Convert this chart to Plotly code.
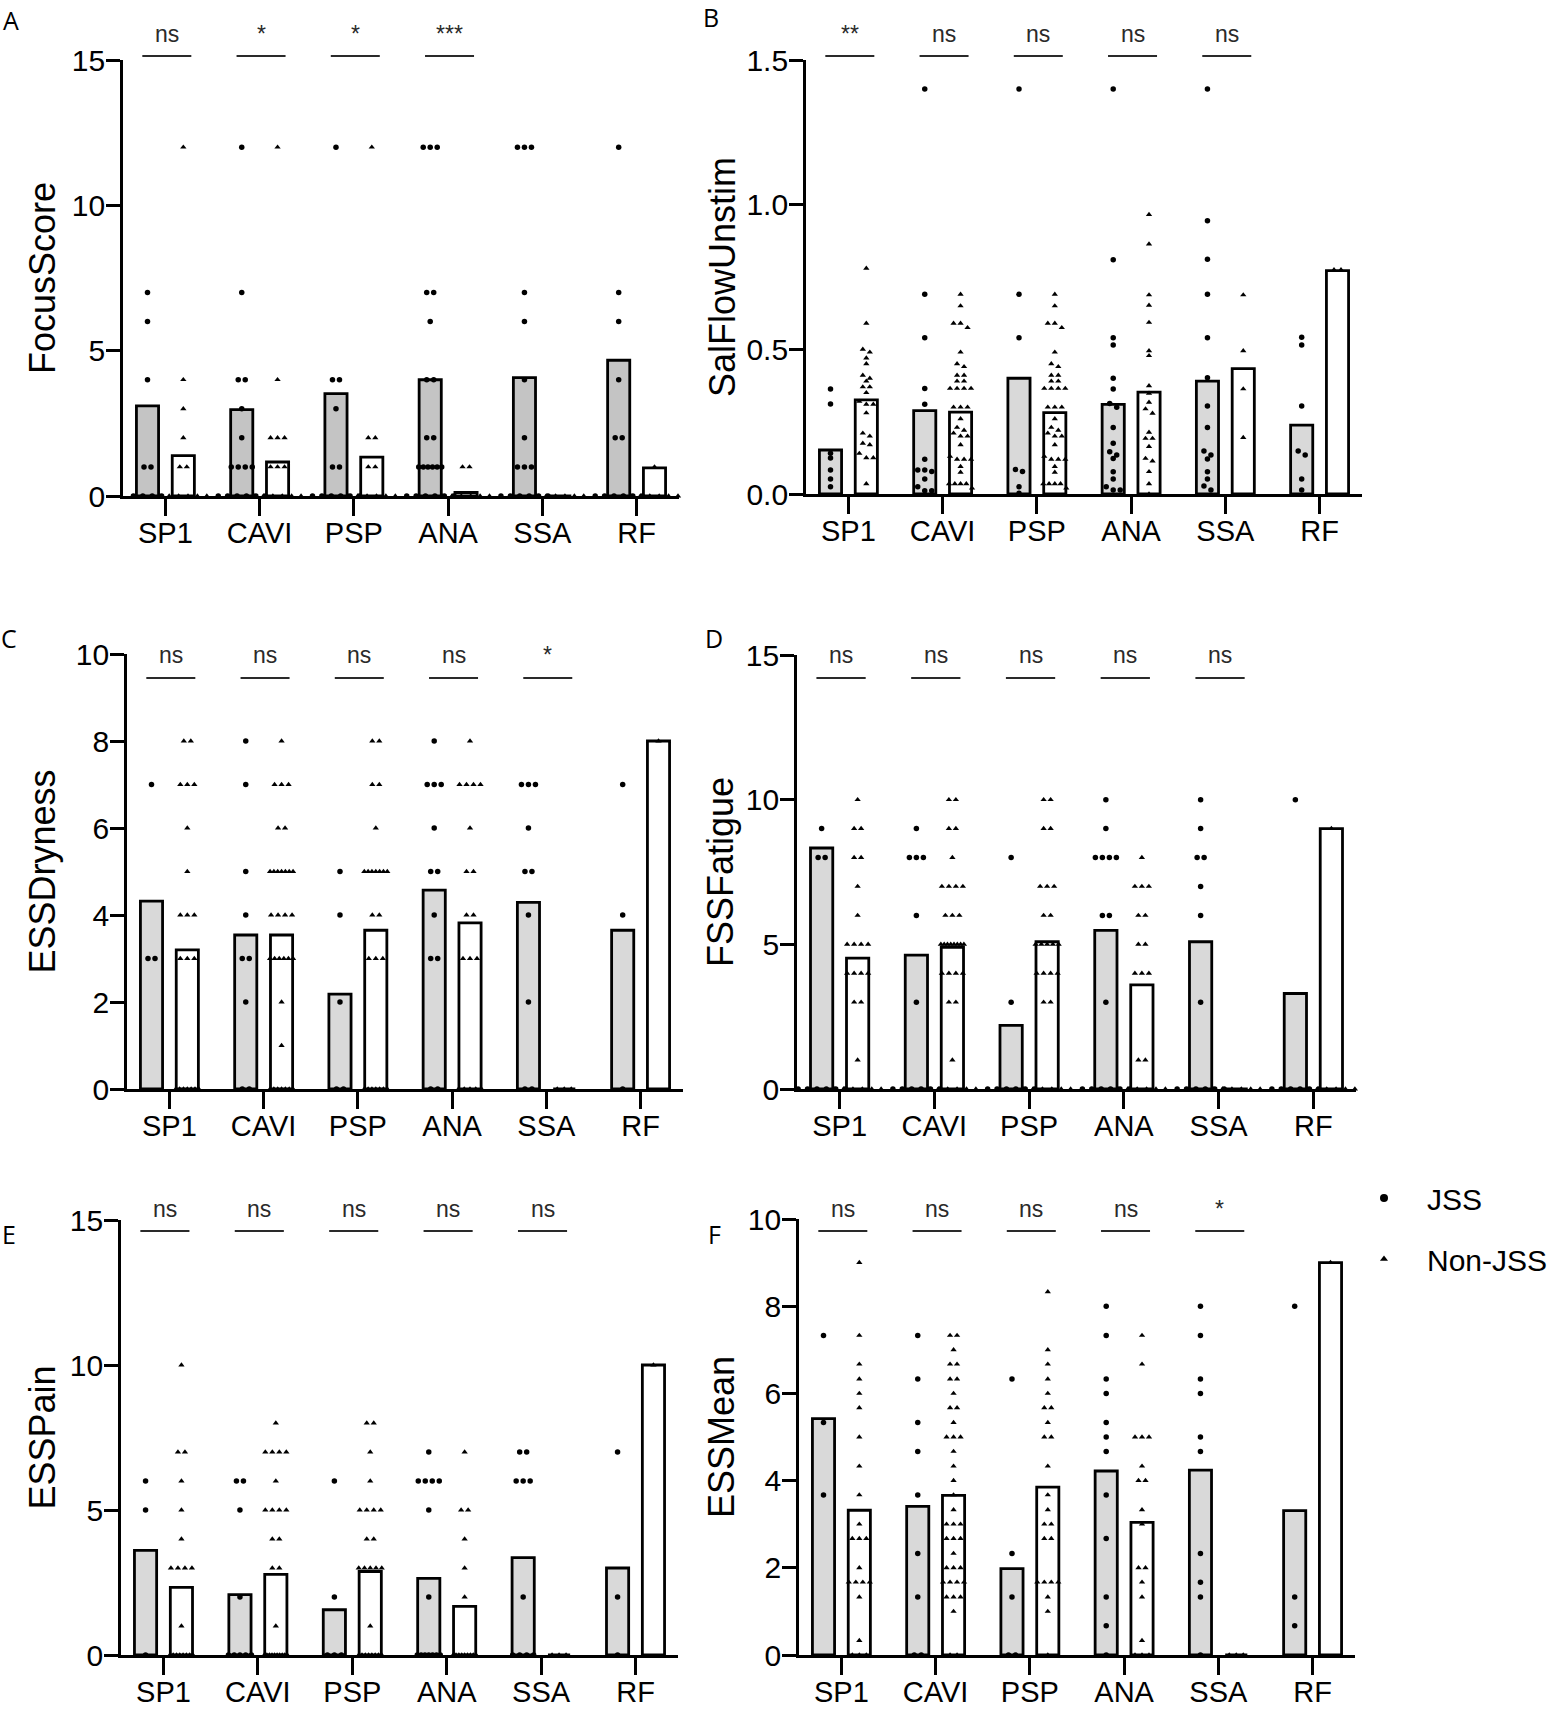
import plotly.graph_objects as go

# ---------------- data ----------------
CATEGORIES = ["SP1", "CAVI", "PSP", "ANA", "SSA", "RF"]

FOCUS_JSS = [
    [7, 6, 4, 1, 1, 0, 0, 0, 0],
    [12, 7, 4, 4, 3, 2, 1, 1, 1, 1, 0, 0, 0, 0, 0, 0],
    [12, 4, 4, 3, 1, 1, 0, 0, 0, 0, 0, 0],
    [12, 12, 12, 7, 7, 6, 4, 4, 2, 2, 1, 1, 1, 1, 1, 1, 0, 0, 0, 0, 0, 0],
    [12, 12, 12, 7, 6, 4, 2, 1, 1, 1, 0, 0, 0, 0, 0, 0],
    [12, 7, 6, 4, 2, 2, 0, 0, 0, 0, 0, 0],
]
FOCUS_NONJSS = [
    [12, 4, 3, 2, 1, 1, 0, 0, 0, 0, 0, 0],
    [12, 4, 2, 2, 2, 1, 1, 1, 0, 0, 0, 0, 0, 0],
    [12, 2, 2, 1, 1, 0, 0, 0, 0, 0, 0],
    [1, 1, 0, 0, 0, 0, 0, 0],
    [0, 0, 0, 0, 0, 0],
    [1, 0, 0, 0, 0, 0, 0],
]
FOCUS_MEAN_JSS = [3.1, 2.97, 3.52, 4.0, 4.07, 4.67]
FOCUS_MEAN_NONJSS = [1.39, 1.17, 1.34, 0.12, 0.0, 0.97]
FOCUS_SIG = ["ns", "*", "*", "***"]

SAL_JSS = [
    [0.363, 0.311, 0.141, 0.124, 0.083, 0.052, 0.025],
    [1.40, 0.69, 0.54, 0.365, 0.31, 0.12, 0.083, 0.083, 0.078, 0.052, 0.025, 0.011, 0.011],
    [1.40, 0.69, 0.54, 0.085, 0.078, 0.025, 0.003],
    [1.40, 0.81, 0.54, 0.515, 0.40, 0.363, 0.313, 0.30, 0.23, 0.175, 0.146, 0.135,
     0.123, 0.077, 0.052, 0.025, 0.014, 0.014],
    [1.40, 0.944, 0.811, 0.69, 0.54, 0.402, 0.304, 0.23, 0.149, 0.135, 0.121, 0.077,
     0.052, 0.028, 0.014],
    [0.542, 0.515, 0.304, 0.149, 0.135, 0.052, 0.014],
]
SAL_NONJSS = [
    [0.78, 0.59, 0.50, 0.49, 0.47, 0.45, 0.41, 0.40, 0.39, 0.37, 0.37, 0.35, 0.32, 0.31,
     0.31, 0.28, 0.21, 0.20, 0.175, 0.17, 0.14, 0.125, 0.125, 0.035],
    [0.69, 0.65, 0.59, 0.59, 0.575, 0.49, 0.45, 0.44, 0.41, 0.41, 0.39, 0.39, 0.365, 0.365,
     0.365, 0.365, 0.30, 0.30, 0.30, 0.26, 0.23, 0.22, 0.21, 0.20, 0.20, 0.17, 0.13, 0.12,
     0.12, 0.12, 0.095, 0.075, 0.035, 0.035, 0.035, 0.035, 0.02],
    [0.69, 0.65, 0.59, 0.59, 0.575, 0.49, 0.45, 0.44, 0.41, 0.41, 0.39, 0.39, 0.365, 0.365,
     0.365, 0.365, 0.30, 0.30, 0.30, 0.26, 0.23, 0.22, 0.21, 0.20, 0.20, 0.17, 0.13, 0.12,
     0.12, 0.12, 0.095, 0.075, 0.035, 0.035, 0.035, 0.035, 0.02],
    [0.966, 0.864, 0.688, 0.652, 0.593, 0.495, 0.478, 0.374, 0.348, 0.317, 0.294, 0.279,
     0.213, 0.192, 0.192, 0.164, 0.123, 0.114, 0.077, 0.035, 0.0],
    [0.688, 0.495, 0.363, 0.195],
    [0.775, 0.775],
]
SAL_MEAN_JSS = [0.152, 0.288, 0.40, 0.31, 0.39, 0.238]
SAL_MEAN_NONJSS = [0.325, 0.283, 0.281, 0.352, 0.433, 0.772]
SAL_SIG = ["**", "ns", "ns", "ns", "ns"]

DRY_JSS = [
    [7, 3, 3],
    [8, 7, 5, 4, 3, 3, 2, 0, 0],
    [5, 4, 2, 0, 0],
    [8, 7, 7, 7, 6, 5, 5, 4, 3, 3, 0, 0],
    [7, 7, 7, 6, 5, 5, 4, 2, 0, 0],
    [7, 4, 0],
]
DRY_NONJSS = [
    [8, 8, 7, 7, 7, 6, 5, 4, 4, 4, 3, 3, 3, 0, 0, 0, 0, 0, 0, 0],
    [8, 7, 7, 7, 6, 6, 5, 5, 5, 5, 5, 5, 5, 4, 4, 4, 4, 3, 3, 3, 3, 3, 3, 2, 1,
     0, 0, 0, 0, 0, 0, 0],
    [8, 8, 7, 7, 6, 5, 5, 5, 5, 5, 5, 5, 4, 4, 3, 3, 3, 0, 0, 0, 0, 0, 0, 0],
    [8, 7, 7, 7, 7, 6, 5, 5, 4, 4, 3, 3, 3, 0, 0, 0, 0, 0],
    [0, 0, 0],
    [8],
]
DRY_MEAN_JSS = [4.32, 3.54, 2.18, 4.57, 4.29, 3.65]
DRY_MEAN_NONJSS = [3.2, 3.54, 3.65, 3.82, 0.0, 8.0]
DRY_SIG = ["ns", "ns", "ns", "ns", "*"]

FAT_JSS = [
    [9, 8, 8, 0, 0, 0, 0, 0, 0],
    [9, 8, 8, 8, 6, 3, 0, 0, 0, 0, 0, 0],
    [8, 3, 0, 0, 0, 0, 0, 0],
    [10, 9, 8, 8, 8, 8, 6, 6, 3, 0, 0, 0, 0, 0, 0],
    [10, 9, 8, 8, 7, 6, 3, 0, 0, 0, 0, 0, 0],
    [10, 0, 0, 0, 0, 0, 0],
]
FAT_NONJSS = [
    [10, 9, 9, 8, 8, 7, 6, 5, 5, 5, 5, 4, 4, 4, 4, 3, 3, 1, 0, 0, 0, 0, 0, 0],
    [10, 10, 9, 9, 8, 7, 7, 7, 7, 6, 6, 6, 5, 5, 5, 5, 5, 5, 5, 5, 4, 4, 4, 4, 3, 3, 1,
     0, 0, 0, 0, 0, 0],
    [10, 10, 9, 9, 7, 7, 7, 6, 6, 5, 5, 5, 5, 5, 4, 4, 4, 4, 3, 3, 0, 0, 0, 0, 0, 0],
    [8, 7, 7, 7, 6, 6, 5, 5, 4, 4, 4, 1, 1, 0, 0, 0, 0, 0, 0],
    [0, 0, 0, 0, 0, 0],
    [9, 0, 0, 0, 0, 0, 0],
]
FAT_MEAN_JSS = [8.33, 4.63, 2.2, 5.48, 5.09, 3.3]
FAT_MEAN_NONJSS = [4.52, 4.9, 5.09, 3.6, 0.0, 9.0]
FAT_SIG = ["ns", "ns", "ns", "ns", "ns"]

PAIN_JSS = [
    [6, 5, 0],
    [6, 6, 5, 2, 0, 0, 0, 0, 0],
    [6, 2, 0, 0, 0],
    [7, 6, 6, 6, 6, 5, 2, 0, 0, 0, 0, 0, 0, 0],
    [7, 7, 6, 6, 6, 2, 0, 0, 0, 0],
    [7, 2, 0],
]
PAIN_NONJSS = [
    [10, 7, 7, 6, 5, 4, 3, 3, 3, 3, 1, 0, 0, 0, 0, 0, 0, 0, 0],
    [8, 7, 7, 7, 7, 6, 5, 5, 5, 5, 4, 4, 3, 3, 1, 0, 0, 0, 0, 0, 0, 0, 0, 0, 0],
    [8, 8, 7, 6, 5, 5, 5, 5, 4, 4, 3, 3, 3, 3, 3, 1, 0, 0, 0, 0, 0, 0, 0, 0],
    [7, 5, 5, 4, 3, 2, 0, 0, 0, 0, 0, 0, 0, 0, 0],
    [0, 0, 0],
    [10],
]
PAIN_MEAN_JSS = [3.61, 2.08, 1.56, 2.64, 3.36, 3.0]
PAIN_MEAN_NONJSS = [2.33, 2.78, 2.88, 1.68, 0.0, 10.0]
PAIN_SIG = ["ns", "ns", "ns", "ns", "ns"]

MEAN_JSS = [
    [7.33, 5.33, 3.67],
    [7.33, 6.33, 5.33, 4.67, 3.67, 2.33, 1.33, 0, 0],
    [6.33, 2.33, 1.33, 0, 0],
    [8, 7.33, 6.33, 6, 5.33, 5, 4.67, 3.67, 2.67, 1.33, 0.67, 0],
    [8, 7.33, 6.33, 6, 5, 4.67, 2.33, 1.67, 1.33, 0],
    [8, 1.33, 0.67],
]
MEAN_NONJSS = [
    [9, 7.33, 6.67, 6.33, 6, 5.67, 5, 4.33, 3.67, 3, 2.67, 2.67, 2.67, 2, 1.67, 1.67,
     1.67, 1.67, 1.33, 0.33, 0, 0, 0],
    [7.33, 7.33, 7, 6.67, 6.67, 6.33, 6.33, 6, 5.67, 5.67, 5.33, 5, 5, 5, 4.67, 4.33, 4,
     3.67, 3.33, 3, 3, 3, 2.67, 2.67, 2.67, 2.33, 2, 2, 2, 1.67, 1.67, 1.67, 1.67, 1.33,
     1.33, 1.33, 1, 0, 0],
    [8.33, 7, 6.67, 6.33, 6, 5.67, 5.67, 5.33, 5, 5, 4.33, 3.67, 3.33, 3, 3, 2.67, 2.67,
     1.67, 1.67, 1.67, 1.67, 1.33, 1, 0],
    [7.33, 6.67, 5, 5, 5, 4.33, 4, 4, 3.33, 3, 2, 2, 1.67, 1.33, 0.33, 0, 0, 0],
    [0, 0, 0],
    [9],
]
MEAN_MEAN_JSS = [5.42, 3.41, 1.98, 4.22, 4.24, 3.31]
MEAN_MEAN_NONJSS = [3.32, 3.66, 3.85, 3.04, 0.0, 9.0]
MEAN_SIG = ["ns", "ns", "ns", "ns", "*"]

LEGEND_NAMES = ["JSS", "Non-JSS"]

# ---------------- layout constants ----------------
FW, FH = 1556, 1716
FONT = "Liberation Sans, Arial, sans-serif"
XMIN, XMAX = -0.45, 5.45
OFF = 0.19
BAR_W = 0.235
ROW_TOL_PX = 4.5
MAX_STEP_PX = 7.0
SPREAD_PX = 23.0
ZERO_STEP_PX = 9.4


def px_x(v):
    return v / FW


def px_y(v):
    return 1 - v / FH


PANELS = [
    dict(letter="A", title="FocusScore", jss=FOCUS_JSS, non=FOCUS_NONJSS,
         mj=FOCUS_MEAN_JSS, mn=FOCUS_MEAN_NONJSS, sig=FOCUS_SIG,
         ymax=15, ticks=[0, 5, 10, 15], fmt="", gray="#c4c4c4", wide_zero=True,
         x0=123, x1=679, top=60, bot=496, line=56, text=34, tx=42, lx=11, ly=20),
    dict(letter="B", title="SalFlowUnstim", jss=SAL_JSS, non=SAL_NONJSS,
         mj=SAL_MEAN_JSS, mn=SAL_MEAN_NONJSS, sig=SAL_SIG,
         ymax=1.5, ticks=[0, 0.5, 1.0, 1.5], fmt=".1f", gray="#d9d9d9", wide_zero=False,
         x0=806, x1=1362, top=60, bot=494, line=56, text=34, tx=722, lx=711, ly=17),
    dict(letter="C", title="ESSDryness", jss=DRY_JSS, non=DRY_NONJSS,
         mj=DRY_MEAN_JSS, mn=DRY_MEAN_NONJSS, sig=DRY_SIG,
         ymax=10, ticks=[0, 2, 4, 6, 8, 10], fmt="", gray="#d9d9d9", wide_zero=False,
         x0=127, x1=683, top=654, bot=1089, line=678, text=655, tx=42, lx=9, ly=638),
    dict(letter="D", title="FSSFatigue", jss=FAT_JSS, non=FAT_NONJSS,
         mj=FAT_MEAN_JSS, mn=FAT_MEAN_NONJSS, sig=FAT_SIG,
         ymax=15, ticks=[0, 5, 10, 15], fmt="", gray="#d9d9d9", wide_zero=True,
         x0=797, x1=1356, top=655, bot=1089, line=678, text=655, tx=720, lx=714, ly=638),
    dict(letter="E", title="ESSPain", jss=PAIN_JSS, non=PAIN_NONJSS,
         mj=PAIN_MEAN_JSS, mn=PAIN_MEAN_NONJSS, sig=PAIN_SIG,
         ymax=15, ticks=[0, 5, 10, 15], fmt="", gray="#d9d9d9", wide_zero=False,
         x0=121, x1=678, top=1220, bot=1655, line=1231, text=1209, tx=42, lx=9, ly=1234),
    dict(letter="F", title="ESSMean", jss=MEAN_JSS, non=MEAN_NONJSS,
         mj=MEAN_MEAN_JSS, mn=MEAN_MEAN_NONJSS, sig=MEAN_SIG,
         ymax=10, ticks=[0, 2, 4, 6, 8, 10], fmt="", gray="#d9d9d9", wide_zero=False,
         x0=799, x1=1355, top=1219, bot=1655, line=1231, text=1209, tx=721, lx=714, ly=1234),
]


def swarm_offsets(values, ppu_y, ppu_x, wide_zero):
    order = sorted(range(len(values)), key=lambda i: -values[i])
    rows = []
    for i in order:
        ypx = values[i] * ppu_y
        if rows and abs(rows[-1][0] - ypx) < ROW_TOL_PX:
            rows[-1][1].append(i)
        else:
            rows.append([ypx, [i]])
    offs = [0.0] * len(values)
    for _, idx in rows:
        n = len(idx)
        if n == 1:
            continue
        if wide_zero and values[idx[0]] == 0:
            step = ZERO_STEP_PX
        else:
            step = min(MAX_STEP_PX, SPREAD_PX / (n - 1))
        for k, i in enumerate(idx):
            offs[i] = (k - (n - 1) / 2) * step / ppu_x
    return offs


fig = go.Figure()
layout = dict(
    width=FW, height=FH, margin=dict(l=0, r=0, t=0, b=0, pad=0, autoexpand=False),
    paper_bgcolor="white", plot_bgcolor="white",
    font=dict(family=FONT, color="black"),
    barmode="overlay", showlegend=True,
)
annotations = []
shapes = []

for n, p in enumerate(PANELS, start=1):
    xa = "x" if n == 1 else f"x{n}"
    ya = "y" if n == 1 else f"y{n}"
    ppu_x = (p["x1"] - p["x0"]) / (XMAX - XMIN)
    ppu_y = (p["bot"] - p["top"]) / p["ymax"]
    hpx = p["bot"] - p["top"]

    # bars (group means)
    fig.add_trace(go.Bar(
        x=[i - OFF for i in range(len(CATEGORIES))], y=p["mj"], width=BAR_W,
        marker=dict(color=p["gray"], line=dict(color="black", width=2.8)),
        xaxis=xa, yaxis=ya, showlegend=False, hoverinfo="skip"))
    fig.add_trace(go.Bar(
        x=[i + OFF for i in range(len(CATEGORIES))], y=p["mn"], width=BAR_W,
        marker=dict(color="white", line=dict(color="black", width=2.8)),
        xaxis=xa, yaxis=ya, showlegend=False, hoverinfo="skip"))

    # individual points
    for group, sign, symbol, size in ((p["jss"], -1, "circle", 5.5),
                                      (p["non"], 1, "triangle-up", 5.5)):
        xs, ys = [], []
        for ci, vals in enumerate(group):
            offs = swarm_offsets(vals, ppu_y, ppu_x, p["wide_zero"])
            for v, o in zip(vals, offs):
                xs.append(ci + sign * OFF + o)
                ys.append(v)
        fig.add_trace(go.Scatter(
            x=xs, y=ys, mode="markers", cliponaxis=False,
            marker=dict(symbol=symbol, size=size, color="black", line=dict(width=0)),
            xaxis=xa, yaxis=ya, showlegend=False, hoverinfo="skip"))

    xkey = "xaxis" if n == 1 else f"xaxis{n}"
    ykey = "yaxis" if n == 1 else f"yaxis{n}"
    layout[xkey] = dict(
        domain=[px_x(p["x0"]), px_x(p["x1"])], anchor=ya, range=[XMIN, XMAX],
        tickmode="array", tickvals=list(range(len(CATEGORIES))), ticktext=CATEGORIES,
        ticks="outside", ticklen=17, tickwidth=2.8, tickcolor="black", ticklabelstandoff=-8,
        showline=True, linewidth=2.8, linecolor="black", automargin=False,
        showgrid=False, zeroline=False, tickfont=dict(size=29, family=FONT, color="black"),
        fixedrange=True)
    layout[ykey] = dict(
        domain=[px_y(p["bot"]), px_y(p["top"])], anchor=xa, range=[0, p["ymax"]],
        tickmode="array", tickvals=p["ticks"],
        ticktext=[format(t, p["fmt"]) if p["fmt"] else str(t) for t in p["ticks"]],
        ticks="outside", ticklen=14, tickwidth=2.8, tickcolor="black", ticklabelstandoff=-5,
        showline=True, linewidth=2.8, linecolor="black", automargin=False,
        showgrid=False, zeroline=False, tickfont=dict(size=30, family=FONT, color="black"),
        fixedrange=True)

    # significance brackets and labels
    for ci, s in enumerate(p["sig"]):
        ly = (p["bot"] - p["line"]) / hpx
        ty = (p["bot"] - p["text"]) / hpx
        xa0 = (ci - 0.245 - XMIN) / (XMAX - XMIN)
        xa1 = (ci + 0.275 - XMIN) / (XMAX - XMIN)
        shapes.append(dict(type="line", xref=f"{xa} domain", yref=f"{ya} domain",
                           x0=xa0, x1=xa1, y0=ly, y1=ly,
                           line=dict(color="#2a2a2a", width=2)))
        annotations.append(dict(text=s, xref=xa, yref=f"{ya} domain", x=ci + 0.015, y=ty,
                                showarrow=False, xanchor="center", yanchor="middle",
                                font=dict(size=23, family=FONT, color="#2a2a2a")))

    # y-axis title
    annotations.append(dict(text=p["title"], xref="paper", yref="paper",
                            x=px_x(p["tx"]), y=px_y((p["top"] + p["bot"]) / 2),
                            textangle=-90, showarrow=False, xanchor="center", yanchor="middle",
                            font=dict(size=36, family=FONT, color="black")))
    # panel letter
    annotations.append(dict(text=p["letter"], xref="paper", yref="paper",
                            x=px_x(p["lx"]), y=px_y(p["ly"]), showarrow=False,
                            xanchor="center", yanchor="middle",
                            font=dict(size=25, family="Open Sans, sans-serif", color="black")))

# legend entries
fig.add_trace(go.Scatter(x=[None], y=[None], mode="markers", name=LEGEND_NAMES[0],
                         legendgroup="g1",
                         marker=dict(symbol="circle", size=8, color="black")))
fig.add_trace(go.Scatter(x=[None], y=[None], mode="markers", name=LEGEND_NAMES[1],
                         legendgroup="g2",
                         marker=dict(symbol="triangle-up", size=7, color="black")))
layout["legend"] = dict(x=px_x(1341), y=px_y(1172), xanchor="left", yanchor="top",
                        font=dict(size=30, family=FONT, color="black"),
                        tracegroupgap=19, bgcolor="rgba(0,0,0,0)", itemwidth=76,
                        borderwidth=0)
layout["annotations"] = annotations
layout["shapes"] = shapes
fig.update_layout(**layout)

# pin the figure to the page's top-left corner so it fills the window exactly
PIN_SCRIPT = (
    "var gd=document.getElementById('{plot_id}');"
    "gd.style.position='absolute';gd.style.left='0px';gd.style.top='0px';"
    "document.body.style.margin='0';document.body.style.overflow='hidden';"
)
fig.write_html("out.html", post_script=PIN_SCRIPT, config={"displayModeBar": False})
